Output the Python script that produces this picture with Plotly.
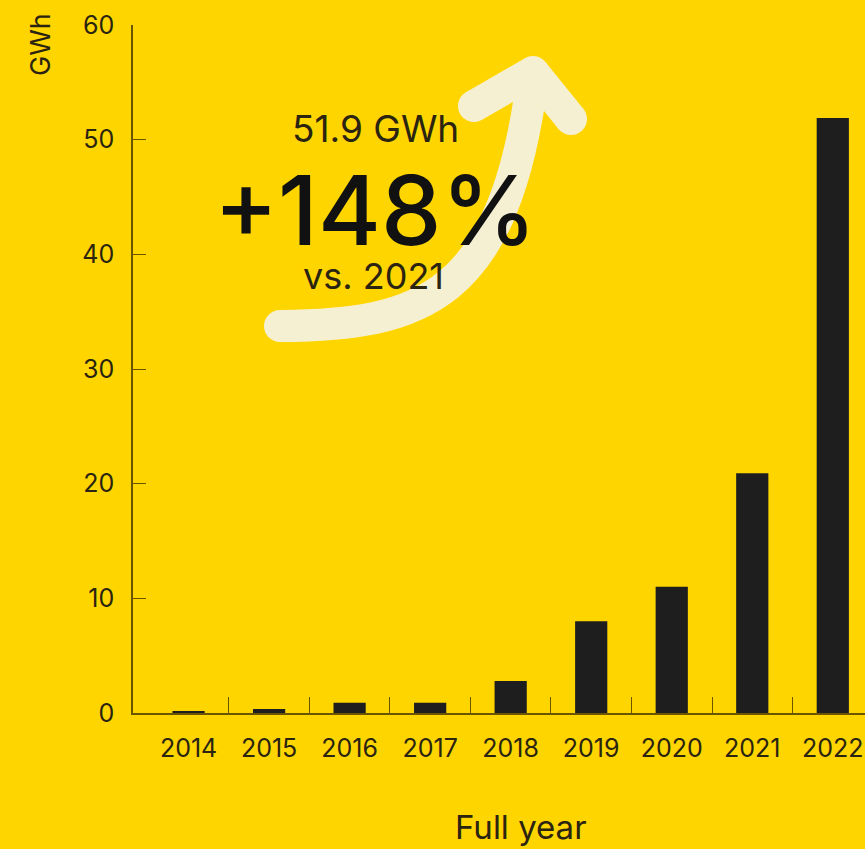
import plotly.graph_objects as go

# ---- data ----
years = ["2014", "2015", "2016", "2017", "2018", "2019", "2020", "2021", "2022"]
gwh = [0.1, 0.35, 0.9, 0.9, 2.8, 8.0, 11.0, 20.9, 51.9]
y_ticks = [0, 10, 20, 30, 40, 50, 60]

# ---- style ----
W, H = 865, 849
ML, MR, MT, MB = 133, 0, 25, 136
BG = "#FFD500"
BAR = "#1E1E1E"
AXIS = "#6B5500"
TXT = "#2A2410"
ARROW = "#F6F0D2"
FONT = "Inter"

pw, ph = W - ML - MR, H - MT - MB


def px(x):
    return (x - ML) / pw


def py(y):
    return (H - MB - y) / ph


idx = list(range(len(years)))

fig = go.Figure()
fig.add_trace(go.Bar(x=idx, y=gwh, width=0.4, marker=dict(color=BAR, line=dict(width=0)),
                     hoverinfo="skip"))

fig.update_layout(
    width=W, height=H,
    margin=dict(l=ML, r=MR, t=MT, b=MB),
    paper_bgcolor=BG, plot_bgcolor=BG,
    showlegend=False,
    font=dict(family=FONT, color=TXT),
)

fig.update_xaxes(
    range=[-0.69, 8.4],
    tickmode="array", tickvals=idx, ticktext=years,
    ticks="inside", ticklen=0, tickcolor=AXIS,
    minor=dict(tickmode="array", tickvals=[i + 0.5 for i in idx[:-1]],
               ticks="inside", ticklen=16, tickwidth=1.3, tickcolor=AXIS),
    showline=True, linecolor=AXIS, linewidth=1.5,
    showgrid=False, zeroline=False,
    tickfont=dict(size=25, color=TXT, family=FONT),
    ticklabelstandoff=12,
)
fig.update_yaxes(
    range=[0, 60],
    tickmode="array", tickvals=y_ticks,
    ticks="inside", ticklen=13, tickwidth=1.3, tickcolor=AXIS,
    showline=True, linecolor=AXIS, linewidth=1.5,
    showgrid=False, zeroline=False,
    tickfont=dict(size=25, color=TXT, family=FONT),
    ticklabelstandoff=12,
)

# ---- decorative arrow (pixel geometry converted to paper units) ----
sw = 32
r = sw / 2
shaft = [(280, 326), (420, 325), (505, 300), (533, 75)]
(x0, y0), (c1x, c1y), (c2x, c2y), (x3, y3) = shaft
path = (f"M {px(x0)},{py(y0)} C {px(c1x)},{py(c1y)} {px(c2x)},{py(c2y)} "
        f"{px(x3)},{py(y3)}")
shapes = [dict(type="path", xref="paper", yref="paper", path=path,
               line=dict(color=ARROW, width=sw), layer="below")]
tip = (533, 72)
arms = [(474, 106), (571, 119)]
for ax_, ay_ in arms:
    shapes.append(dict(type="line", xref="paper", yref="paper",
                       x0=px(tip[0]), y0=py(tip[1]), x1=px(ax_), y1=py(ay_),
                       line=dict(color=ARROW, width=sw), layer="below"))
for cx, cy in [(x0, y0), tip] + arms:
    shapes.append(dict(type="circle", xref="paper", yref="paper",
                       xsizemode="pixel", ysizemode="pixel",
                       xanchor=px(cx), yanchor=py(cy),
                       x0=-r, x1=r, y0=-r, y1=r,
                       fillcolor=ARROW, line=dict(width=0), layer="below"))
fig.update_layout(shapes=shapes)

# ---- text ----
annots = [
    dict(text="51.9 GWh", x=px(375), y=py(128), size=37, weight=400),
    dict(text="+148%", x=px(375), y=py(210), size=96, weight=500),
    dict(text="vs. 2021", x=px(373), y=py(276), size=36, weight=400),
    dict(text="Full year", x=px(521), y=py(827), size=33, weight=400),
]
for a in annots:
    fig.add_annotation(text=a["text"], x=a["x"], y=a["y"], xref="paper", yref="paper",
                       xanchor="center", yanchor="middle", showarrow=False,
                       font=dict(size=a["size"], color="#111111" if a["weight"] == 500 else TXT,
                                 family=FONT, weight=a["weight"]))
fig.add_annotation(text="GWh", x=px(40), y=py(45), xref="paper", yref="paper",
                   xanchor="center", yanchor="middle", showarrow=False, textangle=-90,
                   font=dict(size=27, color=TXT, family=FONT))

fig.write_html("out.html",
               config={"displayModeBar": False},
               post_script="document.body.style.margin='0px';"
                           "document.body.style.overflow='hidden';")
